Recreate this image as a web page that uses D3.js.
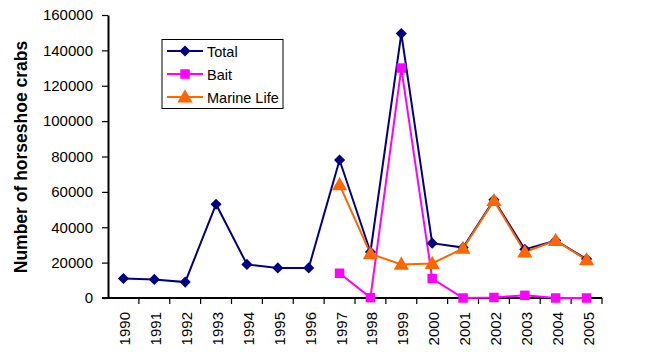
<!DOCTYPE html>
<html><head><meta charset="utf-8">
<script src="https://cdn.jsdelivr.net/npm/d3@7"></script>
<style>body{margin:0;background:#fff;}svg{display:block;font-family:"Liberation Sans",Arial,sans-serif;}</style>
</head><body><svg id="c" width="652" height="352"></svg>
<script>
const years = ["1990","1991","1992","1993","1994","1995","1996","1997","1998","1999","2000","2001","2002","2003","2004","2005"];
const totalValues = [11000,10500,9000,53000,19000,17000,17000,78000,26000,149500,31000,28500,55500,27500,32500,22000];
const baitValues = [null,null,null,null,null,null,null,14000,200,130000,11000,0,300,1500,0,0];
const marineValues = [null,null,null,null,null,null,null,64000,25000,19000,19500,28000,55000,26000,32500,21500];
const yTicks = [0,20000,40000,60000,80000,100000,120000,140000,160000];
const seriesNames = ["Total","Bait","Marine Life"];
const seriesColors = ["#000080","#FF00FF","#FF6600"];

(function(){
const FF = "Liberation Sans, Arial, sans-serif";
const svg = d3.select("#c");
const pl = 108, pr = 602, pt = 15, pb = 298;
const x = d3.scaleBand().domain(years).range([pl,pr]);
const y = d3.scaleLinear().domain([0,160000]).range([pb,pt]);

// y axis
const ya = svg.append("g").attr("transform",`translate(${pl},0)`).attr("font-family",FF)
  .call(d3.axisLeft(y).tickValues(yTicks).tickSize(6).tickSizeOuter(0).tickPadding(9).tickFormat(d3.format("d")));
ya.attr("font-family",FF);
ya.select(".domain").attr("stroke","#000").attr("stroke-width",2);
ya.selectAll(".tick line").attr("stroke","#000").attr("stroke-width",1.2);
ya.selectAll("text").attr("font-size",15).attr("fill","#000").attr("font-family",FF);

// x axis: ticks between categories
const xa = svg.append("g").attr("transform",`translate(0,${pb})`);
xa.append("line").attr("x1",pl-6).attr("x2",pr).attr("stroke","#000").attr("stroke-width",2);
const bounds = years.map((d)=>x(d)).concat([pr]);
xa.selectAll(".tk").data(bounds.slice(1)).join("line").attr("class","tk")
  .attr("x1",d=>d).attr("x2",d=>d).attr("y1",0).attr("y2",6).attr("stroke","#000").attr("stroke-width",1.2);
xa.selectAll(".lb").data(years).join("text").attr("class","lb")
  .attr("transform",d=>`translate(${x(d)+x.bandwidth()/2+7},${14}) rotate(-90)`)
  .attr("text-anchor","end").attr("font-size",15).attr("font-family",FF).attr("fill","#000").text(d=>d);

// y label
svg.append("text").attr("transform","translate(27,157) rotate(-90)")
  .attr("text-anchor","middle").attr("font-size",17.5).attr("font-family",FF).attr("font-weight","bold").text("Number of horseshoe crabs");

const cx = d => x(d)+x.bandwidth()/2;
const allSeries = [totalValues, baitValues, marineValues];
const symbols = [d3.symbolSquare, d3.symbolSquare, d3.symbolTriangle];
const sizes = [62, 90, 100];
const rot = [45, 0, 0];
const dy = [0, 0, 1];

const line = d3.line().defined(d=>d.v!==null).x(d=>cx(d.k)).y(d=>y(d.v));
allSeries.forEach((vals,i)=>{
  const data = years.map((k,j)=>({k, v: vals[j]}));
  svg.append("path").datum(data).attr("d",line).attr("fill","none")
    .attr("stroke",seriesColors[i]).attr("stroke-width",2);
});
[0,1,2].forEach(i=>{
  const data = years.map((k,j)=>({k, v: allSeries[i][j]})).filter(d=>d.v!==null);
  svg.selectAll(".m"+i).data(data).join("path").attr("class","m"+i)
    .attr("d",d3.symbol().type(symbols[i]).size(sizes[i]))
    .attr("transform",d=>`translate(${cx(d.k)},${y(d.v)+dy[i]}) rotate(${rot[i]})`)
    .attr("fill",seriesColors[i]);
});

// legend
const lg = svg.append("g");
lg.append("rect").attr("x",162).attr("y",39.5).attr("width",121).attr("height",69)
  .attr("fill","#fff").attr("stroke","#000").attr("stroke-width",1);
seriesNames.forEach((n,i)=>{
  const yy = 51 + i*23;
  lg.append("line").attr("x1",167).attr("x2",203).attr("y1",yy).attr("y2",yy)
    .attr("stroke",seriesColors[i]).attr("stroke-width",2);
  lg.append("path").attr("d",d3.symbol().type(symbols[i]).size(sizes[i]))
    .attr("transform",`translate(185,${yy+dy[i]}) rotate(${rot[i]})`).attr("fill",seriesColors[i]);
  lg.append("text").attr("x",207).attr("y",yy+5.5).attr("font-size",14.5).attr("font-family",FF).text(n);
});
})();
</script></body></html>
